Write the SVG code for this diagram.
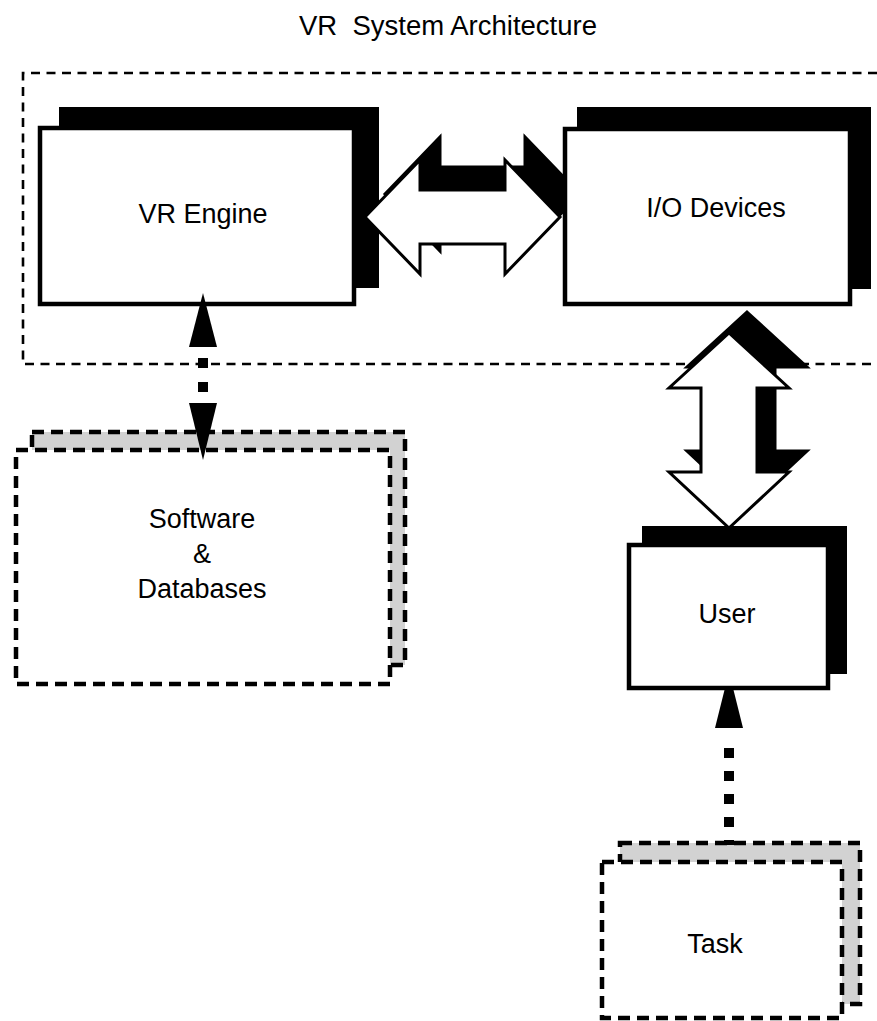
<svg xmlns="http://www.w3.org/2000/svg" xmlns:xlink="http://www.w3.org/1999/xlink" width="877" height="1021" viewBox="0 0 877 1021">
<style>
  text { font-family: "Liberation Sans", Arial, sans-serif; font-size: 27px; fill: #000; text-anchor: middle; }
  .shadow { fill: #000; }
  .front { fill: #fff; stroke: #000; stroke-width: 4.5; }
  .dshadow { fill: #d2d2d2; stroke: #000; stroke-width: 4.5; stroke-dasharray: 12 7; }
  .dfront { fill: #fff; stroke: #000; stroke-width: 4.5; stroke-dasharray: 12 7; }
  .outer { fill: none; stroke: #000; stroke-width: 2.6; stroke-dasharray: 9 6.5; }
  .fat { fill: #fff; stroke: #000; stroke-width: 3; stroke-linejoin: miter; }
  .fatshadow { fill: #000; stroke: #000; stroke-width: 3; }
  .dots { fill: none; stroke: #000; stroke-width: 10; }
  .head { fill: #000; }
</style>
<defs>
  <path id="harrow" d="M365 217 L420 160 L420 190 L505 190 L505 160 L560 217 L505 274 L505 244 L420 244 L420 274 Z"/>
  <path id="varrow" d="M729 333 L789 388 L757 388 L757 472 L789 472 L729 528 L669 472 L701 472 L701 388 L669 388 Z"/>
</defs>

<text x="448" y="35" xml:space="preserve" style="font-size:27.5px">VR  System Architecture</text>

<g id="vr-system-boundary">
  <path class="outer" d="M877 73 H23 V364 H877"/>
</g>

<g id="software-databases">
  <rect class="dshadow" x="32" y="432" width="373" height="233"/>
  <rect class="dfront" x="16" y="450" width="374" height="234"/>
  <text x="202" y="528">Software</text>
  <text x="202" y="563">&amp;</text>
  <text x="202" y="598">Databases</text>
</g>

<g id="task">
  <rect class="dshadow" x="620" y="843" width="240" height="161"/>
  <rect class="dfront" x="602" y="862" width="240" height="156"/>
  <text x="715" y="953">Task</text>
</g>

<g id="vr-engine">
  <rect class="shadow" x="59" y="107" width="320" height="181"/>
  <rect class="front" x="40" y="128" width="314" height="176"/>
  <text x="203" y="223">VR Engine</text>
</g>

<g id="connectors">
  <use xlink:href="#harrow" class="fatshadow" transform="translate(20,-23)"/>
  <use xlink:href="#harrow" class="fat"/>
  <use xlink:href="#varrow" class="fatshadow" transform="translate(18,-21)"/>
  <use xlink:href="#varrow" class="fat"/>
  <line class="dots" x1="203" y1="358" x2="203" y2="392" stroke-dasharray="10 14"/>
  <polygon class="head" points="203,293 217,347 189,347"/>
  <polygon class="head" points="189,403 217,403 203,460"/>
  <line class="dots" x1="729" y1="748" x2="729" y2="845" stroke-dasharray="10 13"/>
  <polygon class="head" points="729,672 743,728 715,728"/>
</g>

<g id="io-devices">
  <rect class="shadow" x="577" y="107" width="294" height="182"/>
  <rect class="front" x="565" y="129" width="285" height="175"/>
  <text x="716" y="217">I/O Devices</text>
</g>

<g id="user">
  <rect class="shadow" x="642" y="526" width="205" height="148"/>
  <rect class="front" x="629" y="545" width="199" height="143"/>
  <text x="727" y="623">User</text>
</g>
</svg>
